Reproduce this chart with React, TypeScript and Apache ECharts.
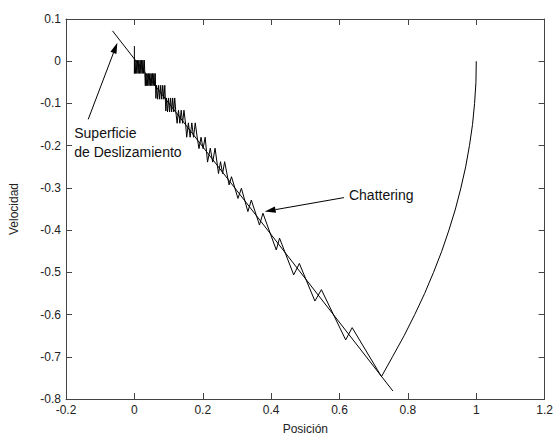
import React, { useEffect, useRef } from "react";
import * as echarts from "echarts";

// Axis ranges / ticks
const xMin = -0.2;
const xMax = 1.2;
const xStep = 0.2;
const yMin = -0.8;
const yMax = 0.1;
const yStep = 0.1;

// Sliding surface (straight line)
const surface: [number, number][] = [
  [-0.064, 0.072],
  [0.756, -0.781],
];

// Reaching phase: from (1, 0) down to the surface
const reaching: [number, number][] = [
  [1.0, 0.0], [0.999, -0.05], [0.995, -0.1], [0.989, -0.15], [0.98, -0.2],
  [0.969, -0.25], [0.955, -0.3], [0.939, -0.35], [0.92, -0.4], [0.899, -0.45],
  [0.875, -0.5], [0.849, -0.55], [0.82, -0.6], [0.789, -0.65], [0.755, -0.7],
  [0.7227, -0.747],
];

// Chattering zig-zag along the surface (peaks above, dips below)
const zigzag: [number, number][] = [
  [0.637, -0.631], [0.618, -0.66], [0.547, -0.541], [0.528, -0.568],
  [0.4825, -0.479], [0.466, -0.506], [0.4245, -0.419], [0.415, -0.447],
  [0.376, -0.36], [0.366, -0.388], [0.342, -0.329], [0.332, -0.356],
  [0.313, -0.301], [0.303, -0.325], [0.284, -0.2735], [0.277, -0.293],
];

// Dense chattering blocks near the origin
const block9: [number, number][] = [
  [0.264, -0.238], [0.258, -0.266], [0.252, -0.238], [0.246, -0.266],
];
const block8: [number, number][] = [
  [0.236, -0.206], [0.229, -0.239], [0.222, -0.206], [0.214, -0.239],
];
const block7: [number, number][] = [
  [0.207, -0.18], [0.201, -0.207], [0.195, -0.18], [0.189, -0.207], [0.184, -0.182],
];
const block6: [number, number][] = [
  [0.178, -0.146], [0.173, -0.18], [0.168, -0.146], [0.163, -0.18],
  [0.158, -0.146], [0.153, -0.18], [0.15, -0.15],
];
const block5: [number, number][] = [
  [0.145, -0.116], [0.141, -0.147], [0.137, -0.116], [0.133, -0.147],
  [0.129, -0.116], [0.125, -0.147], [0.121, -0.118],
];
const block4: [number, number][] = [
  [0.118, -0.087], [0.115, -0.12], [0.112, -0.087], [0.109, -0.12], [0.106, -0.087],
  [0.103, -0.12], [0.1, -0.087], [0.097, -0.12], [0.094, -0.087], [0.092, -0.118],
];
const block3: [number, number][] = [
  [0.089, -0.057], [0.086, -0.09], [0.083, -0.057], [0.08, -0.09], [0.077, -0.057],
  [0.074, -0.09], [0.071, -0.057], [0.068, -0.09], [0.065, -0.057], [0.063, -0.088],
];
const block2: [number, number][] = [
  [0.061, -0.029], [0.059, -0.058], [0.057, -0.029], [0.055, -0.058],
  [0.053, -0.029], [0.051, -0.058], [0.049, -0.029], [0.047, -0.058],
  [0.045, -0.029], [0.043, -0.058], [0.041, -0.029], [0.039, -0.058],
  [0.037, -0.029], [0.035, -0.058], [0.033, -0.029], [0.032, -0.058],
];
const block1: [number, number][] = [
  [0.029, 0.0025], [0.027, -0.029], [0.025, 0.0025], [0.023, -0.029],
  [0.021, 0.0025], [0.019, -0.029], [0.017, 0.0025], [0.015, -0.029],
  [0.013, 0.0025], [0.011, -0.029], [0.009, 0.0025], [0.007, -0.029],
  [0.005, 0.0025], [0.003, -0.029], [0.001, 0.0025], [0.0, -0.029],
];
const ending: [number, number][] = [[0.0, 0.036]];

// Annotations (arrow tail -> tip, in data units)
const superficieLines = ["Superficie", "de Deslizamiento"];
const superficieTail: [number, number] = [-0.135, -0.1376];
const superficieTip: [number, number] = [-0.0498, 0.044];
const chatteringLabel = "Chattering";
const chatteringTail: [number, number] = [0.613, -0.323];
const chatteringTip: [number, number] = [0.381, -0.356];

const FONT = "'Liberation Sans', Arial, Helvetica, sans-serif";

const fmt = (v: number) => String(Number(v.toFixed(1)));

export default function App() {
  const ref = useRef<HTMLDivElement>(null);

  useEffect(() => {
    if (!ref.current) return;
    const chart = echarts.init(ref.current, undefined, { renderer: "svg" });

    const trajectory = [
      ...reaching, ...zigzag, ...block9, ...block8, ...block7, ...block6,
      ...block5, ...block4, ...block3, ...block2, ...block1, ...ending,
    ];

    const axisLine = { show: true, onZero: false, lineStyle: { color: "#444", width: 1 } };
    const axisTick = { show: true, inside: true, length: 6, lineStyle: { color: "#444", width: 1 } };
    const labelStyle = { color: "#222", fontSize: 12, fontFamily: FONT };

    chart.setOption({
      animation: false,
      backgroundColor: "#fff",
      grid: { left: 65, right: 9, top: 19, bottom: 41, containLabel: false },
      xAxis: [
        {
          type: "value", min: xMin, max: xMax, interval: xStep, position: "bottom",
          axisLine, axisTick, splitLine: { show: false },
          axisLabel: { ...labelStyle, margin: 5, formatter: fmt },
          name: "Posición", nameLocation: "middle", nameGap: 24,
          nameTextStyle: { color: "#222", fontSize: 12, fontFamily: FONT },
        },
        {
          type: "value", min: xMin, max: xMax, interval: xStep, position: "top",
          axisLine, axisTick, splitLine: { show: false }, axisLabel: { show: false },
        },
      ],
      yAxis: [
        {
          type: "value", min: yMin, max: yMax, interval: yStep, position: "left",
          axisLine, axisTick, splitLine: { show: false },
          axisLabel: { ...labelStyle, margin: 5, formatter: fmt },
          name: "Velocidad", nameLocation: "middle", nameGap: 46,
          nameTextStyle: { color: "#222", fontSize: 12, fontFamily: FONT },
        },
        {
          type: "value", min: yMin, max: yMax, interval: yStep, position: "right",
          axisLine, axisTick, splitLine: { show: false }, axisLabel: { show: false },
        },
      ],
      series: [
        {
          type: "line", name: "Superficie", data: surface, showSymbol: false,
          lineStyle: { color: "#000", width: 1 }, xAxisIndex: 0, yAxisIndex: 0,
          silent: true,
        },
        {
          type: "line", name: "Trayectoria", data: trajectory, showSymbol: false,
          lineStyle: { color: "#000", width: 1 }, xAxisIndex: 0, yAxisIndex: 0,
          silent: true,
        },
      ],
    });

    const px = (p: [number, number]) =>
      chart.convertToPixel({ xAxisIndex: 0, yAxisIndex: 0 }, p) as number[];

    const arrow = (tail: [number, number], tip: [number, number]) => {
      const a = px(tail);
      const b = px(tip);
      const dx = b[0] - a[0];
      const dy = b[1] - a[1];
      const len = Math.hypot(dx, dy);
      const ux = dx / len;
      const uy = dy / len;
      const hl = 11;
      const hw = 3.2;
      const bx = b[0] - ux * hl;
      const by = b[1] - uy * hl;
      return [
        {
          type: "line",
          shape: { x1: a[0], y1: a[1], x2: bx, y2: by },
          style: { stroke: "#000", lineWidth: 1 },
          z: 100,
        },
        {
          type: "polygon",
          shape: {
            points: [
              [b[0], b[1]],
              [bx - uy * hw, by + ux * hw],
              [bx + uy * hw, by - ux * hw],
            ],
          },
          style: { fill: "#000" },
          z: 100,
        },
      ];
    };

    const sTail = px(superficieTail);
    const cTail = px(chatteringTail);

    chart.setOption({
      graphic: [
        ...arrow(superficieTail, superficieTip),
        ...arrow(chatteringTail, chatteringTip),
        {
          type: "text", x: sTail[0] - 14, y: sTail[1] + 14, z: 100,
          style: {
            text: superficieLines[0], fontSize: 14, fontFamily: FONT, fill: "#111",
            align: "left", verticalAlign: "middle",
          },
        },
        {
          type: "text", x: sTail[0] - 14, y: sTail[1] + 33, z: 100,
          style: {
            text: superficieLines[1], fontSize: 14, fontFamily: FONT, fill: "#111",
            align: "left", verticalAlign: "middle",
          },
        },
        {
          type: "text", x: cTail[0] + 5, y: cTail[1] - 2.5, z: 100,
          style: {
            text: chatteringLabel, fontSize: 14, fontFamily: FONT, fill: "#111",
            align: "left", verticalAlign: "middle",
          },
        },
      ],
    });

    return () => chart.dispose();
  }, []);

  return (
    <div
      ref={ref}
      style={{ position: "fixed", left: 0, top: 0, width: 556, height: 440, background: "#fff" }}
    />
  );
}
